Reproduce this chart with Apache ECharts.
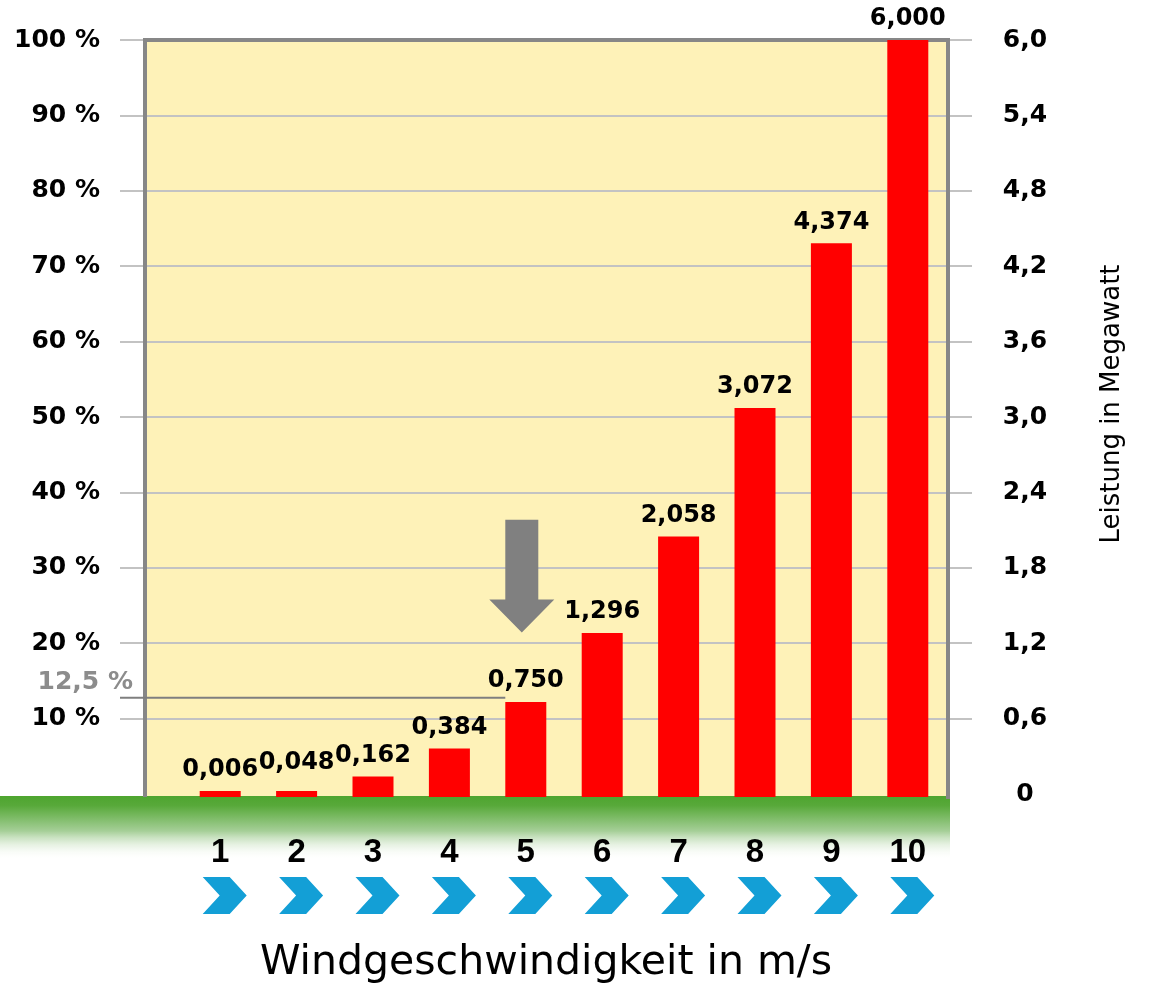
<!DOCTYPE html>
<html>
<head>
<meta charset="utf-8">
<title>Leistung nach Windgeschwindigkeit</title>
<script src="https://cdn.jsdelivr.net/npm/echarts@6/dist/echarts.min.js"></script>
<style>
  html, body { margin: 0; padding: 0; background: #fff; }
  #container { width: 1152px; height: 989px; }
</style>
</head>
<body>
<div id="container"></div>
<script>
  // Windgeschwindigkeit in m/s
  var speeds = ['1', '2', '3', '4', '5', '6', '7', '8', '9', '10']
  // Leistung in Megawatt
  var power = [0.006, 0.048, 0.162, 0.384, 0.750, 1.296, 2.058, 3.072, 4.374, 6.000]
  // Achsen: Prozent links, MW rechts
  var percentMax = 100, percentStep = 10
  var mwMax = 6, mwStep = 0.6
  // Markierung 12,5 %
  var markPercent = 12.5
  var markLabel = '12,5 %'

  var boldFont = 'DejaVu Sans'
  var plot = { left: 145, right: 948, top: 40, bottom: 797 }

  var dom = document.getElementById('container')
  var myChart = echarts.init(dom)

  function fmtComma(v, digits) {
    return v.toFixed(digits).replace('.', ',')
  }

  myChart.setOption({
    animation: false,
    grid: [
      // Achsen + Gitterlinien (etwas breiter als die Fläche)
      { left: 120, right: 180, top: 40, bottom: 192 },
      // Balken
      { left: 182, right: 206, top: 40, bottom: 192 },
      // gelbe Fläche
      { left: plot.left, right: 1152 - plot.right, top: 40, bottom: 192, show: true, backgroundColor: '#FEF2B8', borderWidth: 0 }
    ],
    xAxis: [
      {
        gridIndex: 0, type: 'value', min: 0, max: 1,
        axisLine: { show: false }, axisTick: { show: false }, axisLabel: { show: false }, splitLine: { show: false },
        name: 'Windgeschwindigkeit in m/s',
        nameLocation: 'middle',
        nameGap: 149,
        nameTextStyle: { fontFamily: 'DejaVu Sans', fontSize: 41, color: '#000' }
      },
      {
        gridIndex: 1, type: 'category', data: speeds, z: 5,
        axisLine: { show: false }, axisTick: { show: false },
        axisLabel: { margin: 39, fontFamily: 'Liberation Sans', fontWeight: 'bold', fontSize: 33, color: '#000' }
      },
      { gridIndex: 2, type: 'value', show: false }
    ],
    yAxis: [
      {
        gridIndex: 0, type: 'value', min: 0, max: percentMax, interval: percentStep, position: 'left',
        axisLine: { show: false }, axisTick: { show: false },
        axisLabel: {
          margin: 20, fontFamily: boldFont, fontWeight: 'bold', fontSize: 25, color: '#000',
          formatter: function (v) { return v === 0 ? '' : v + ' %' }
        },
        splitLine: { show: true, showMinLine: false, lineStyle: { color: '#C3C3C3', width: 2 } }
      },
      {
        gridIndex: 0, type: 'value', min: 0, max: mwMax, interval: mwStep, position: 'right',
        axisLine: { show: false }, axisTick: { show: false }, splitLine: { show: false },
        axisLabel: {
          margin: 53, align: 'center', fontFamily: boldFont, fontWeight: 'bold', fontSize: 25, color: '#000',
          formatter: function (v) { return v === 0 ? '0' : fmtComma(v, 1) }
        },
        name: 'Leistung in Megawatt',
        nameLocation: 'middle',
        nameRotate: 90,
        nameGap: 127,
        nameTextStyle: { fontFamily: 'DejaVu Sans', fontSize: 26, color: '#000', padding: [0, 0, 0, 26] }
      },
      { gridIndex: 1, type: 'value', min: 0, max: 5.98, show: false },
      { gridIndex: 2, type: 'value', show: false }
    ],
    series: [
      {
        name: 'Leistung',
        type: 'bar',
        xAxisIndex: 1,
        yAxisIndex: 2,
        data: power,
        barWidth: 41,
        barMinHeight: 6,
        z: 3,
        itemStyle: { color: '#FF0000' },
        label: {
          show: true,
          position: 'top',
          distance: 9,
          fontFamily: boldFont,
          fontWeight: 'bold',
          fontSize: 24,
          color: '#000',
          formatter: function (p) { return fmtComma(p.value, 3) }
        },
        // zweites Label etwas höher, damit es nicht mit dem ersten verschmilzt
        labelLayout: function (params) {
          if (params.dataIndex === 1) return { dy: -7 }
          return {}
        }
      },
      {
        // blaue Pfeile unter den Achsenbeschriftungen
        type: 'custom',
        xAxisIndex: 1,
        yAxisIndex: 2,
        clip: false,
        silent: true,
        data: speeds.map(function (s) { return [s, 0] }),
        renderItem: function (params, api) {
          var c = api.coord([api.value(0), 0])
          var x0 = c[0] - 17.5, y0 = c[1] + 80
          return {
            type: 'polygon',
            shape: { points: [[x0, y0], [x0 + 27, y0], [x0 + 44, y0 + 18.5], [x0 + 27, y0 + 37], [x0, y0 + 37], [x0 + 17, y0 + 18.5]] },
            style: { fill: '#139FD6' }
          }
        }
      }
    ]
  })

  // 12,5 %-Linie und Pfeil an Balken 5
  var lineY = myChart.convertToPixel({ yAxisIndex: 0 }, markPercent)
  var bar5X = myChart.convertToPixel({ xAxisIndex: 1 }, '5')
  var ax = bar5X - 4
  var arrowTop = myChart.convertToPixel({ yAxisIndex: 2 }, 2.19)
  var arrowHead = myChart.convertToPixel({ yAxisIndex: 2 }, 1.56)
  var arrowTip = myChart.convertToPixel({ yAxisIndex: 2 }, 1.30)

  myChart.setOption({
    graphic: [
      {
        // Wiese
        type: 'rect', z: 1, silent: true,
        shape: { x: 0, y: plot.bottom - 1, width: plot.right + 2, height: 64 },
        style: {
          stroke: null,
          fill: new echarts.graphic.LinearGradient(0, 0, 0, 1, [
            { offset: 0, color: '#4EA52F' },
            { offset: 0.15, color: '#58A93A' },
            { offset: 0.55, color: '#A6CF98' },
            { offset: 1, color: 'rgba(255,255,255,0)' }
          ])
        }
      },
      {
        // Rahmen
        type: 'polyline', z: 1, silent: true,
        shape: { points: [[plot.left, plot.bottom], [plot.left, plot.top], [plot.right, plot.top], [plot.right, plot.bottom + 2]] },
        style: { stroke: '#878787', lineWidth: 4, fill: null }
      },
      {
        type: 'line', z: 2, silent: true,
        shape: { x1: 120, y1: lineY - 2, x2: bar5X - 20.5, y2: lineY - 2 },
        style: { stroke: '#7F7F7F', lineWidth: 2 }
      },
      {
        type: 'text', z: 2, silent: true,
        x: 133, y: lineY - 5,
        style: {
          text: markLabel, fill: '#8C8C8C', align: 'right', verticalAlign: 'bottom',
          fontFamily: boldFont, fontWeight: 'bold', fontSize: 25
        }
      },
      {
        type: 'polygon', z: 2, silent: true,
        shape: {
          points: [
            [ax - 16.5, arrowTop], [ax + 16.5, arrowTop], [ax + 16.5, arrowHead], [ax + 32.5, arrowHead],
            [ax, arrowTip], [ax - 32.5, arrowHead], [ax - 16.5, arrowHead]
          ]
        },
        style: { fill: '#808080' }
      }
    ]
  })
</script>
</body>
</html>
